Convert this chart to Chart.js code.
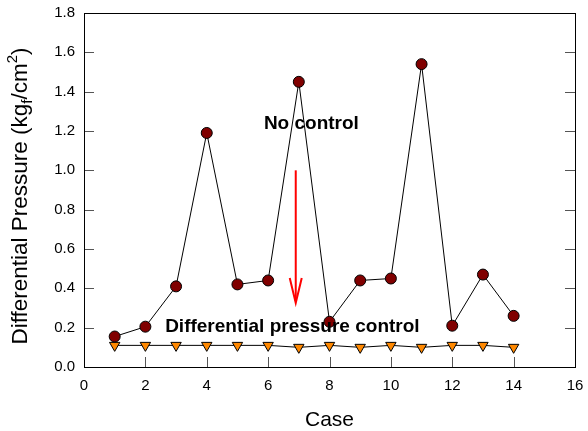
<!DOCTYPE html>
<html><head><meta charset="utf-8">
<script src="https://cdn.jsdelivr.net/npm/chart.js@4/dist/chart.umd.min.js"></script>
<style>html,body{margin:0;padding:0;background:#fff}#wrap{width:588px;height:431px}</style>
</head><body><div id="wrap"><canvas id="c" width="588" height="431"></canvas></div>
<script>
const cases = [1,2,3,4,5,6,7,8,9,10,11,12,13,14];
const noControl = [0.155,0.205,0.41,1.19,0.42,0.44,1.45,0.23,0.44,0.45,1.54,0.21,0.47,0.26];
const dpControl = [0.11,0.11,0.11,0.11,0.11,0.11,0.10,0.11,0.10,0.11,0.10,0.11,0.11,0.10];
const xTicks = [0,2,4,6,8,10,12,14,16];
const yTicks = [0,0.2,0.4,0.6,0.8,1.0,1.2,1.4,1.6,1.8];
const xTitle = 'Case';
const yTitleParts = [{t:'Differential Pressure (kg',k:'n'},{t:'f',k:'sub'},{t:'/cm',k:'n'},{t:'2',k:'sup'},{t:')',k:'n'}];
const labelNoControl = {text:'No control', x:7.41, y:1.235};
const labelControl = {text:'Differential pressure control', x:6.79, y:0.205};
const arrow = {x:6.9, y0:1.0, y1:0.325};

const FONT = '"Liberation Sans", Arial, sans-serif';

const framePlugin = {
  id:'frame',
  afterDatasetsDraw(chart){
    const {ctx, chartArea:a, scales:{x,y}} = chart;
    ctx.save();
    // inward ticks
    ctx.strokeStyle='#555'; ctx.lineWidth=1;
    ctx.beginPath();
    xTicks.forEach(v=>{const px=Math.round(x.getPixelForValue(v))+0.5;
      ctx.moveTo(px,a.bottom); ctx.lineTo(px,a.bottom-10);});
    yTicks.forEach(v=>{const py=Math.round(y.getPixelForValue(v))+0.5;
      ctx.moveTo(a.left,py); ctx.lineTo(a.left+10,py);
      ctx.moveTo(a.right,py); ctx.lineTo(a.right-10,py);});
    ctx.stroke();
    ctx.strokeStyle='#000';
    ctx.strokeRect(Math.round(a.left)+0.5, Math.round(a.top)+0.5, Math.round(a.right-a.left), Math.round(a.bottom-a.top));
    // arrow
    const ax=x.getPixelForValue(arrow.x), ay0=y.getPixelForValue(arrow.y0), ay1=y.getPixelForValue(arrow.y1);
    ctx.strokeStyle='#ff0000'; ctx.lineWidth=2;
    ctx.beginPath(); ctx.moveTo(ax,ay0); ctx.lineTo(ax,ay1-2); ctx.stroke();
    ctx.beginPath(); ctx.moveTo(ax-6,ay1-25); ctx.lineTo(ax,ay1); ctx.lineTo(ax+6,ay1-25); ctx.stroke();
    // labels
    ctx.fillStyle='#000'; ctx.font='bold 19px '+FONT; ctx.textAlign='center'; ctx.textBaseline='middle';
    [labelNoControl,labelControl].forEach(l=>ctx.fillText(l.text, x.getPixelForValue(l.x), y.getPixelForValue(l.y)));
    // y title with sub/superscript
    const fs=22.5, small=Math.round(fs*0.68);
    ctx.textAlign='left'; ctx.textBaseline='alphabetic';
    let total=0;
    yTitleParts.forEach(p=>{ctx.font=(p.k==='n'?fs:small)+'px '+FONT; p.w=ctx.measureText(p.t).width; total+=p.w;});
    ctx.translate(19+fs*0.358, 196);
    ctx.rotate(-Math.PI/2);
    let cx=-total/2;
    yTitleParts.forEach(p=>{
      ctx.font=(p.k==='n'?fs:small)+'px '+FONT;
      const dy = p.k==='sub'? fs*0.2 : p.k==='sup'? -fs*0.45 : 0;
      ctx.fillText(p.t, cx, dy); cx+=p.w;});
    ctx.restore();
  }
};

new Chart(document.getElementById('c'), {
  type:'line',
  data:{datasets:[
    {label:'No control', data:cases.map((c,i)=>({x:c,y:noControl[i]})), borderColor:'#000', borderWidth:1,
     pointStyle:'circle', pointRadius:5.5, pointBackgroundColor:'#800000', pointBorderColor:'#000', pointBorderWidth:1, tension:0},
    {label:'Differential pressure control', data:cases.map((c,i)=>({x:c,y:dpControl[i]})), borderColor:'#000', borderWidth:1,
     pointStyle:'triangle', pointRotation:180, pointRadius:6, pointBackgroundColor:'#ff8800', pointBorderColor:'#000', pointBorderWidth:1, tension:0}
  ]},
  options:{
    responsive:false, animation:false, devicePixelRatio:1,
    layout:{padding:{top:13,right:13,left:0,bottom:0}},
    plugins:{legend:{display:false}, tooltip:{enabled:false}},
    scales:{
      x:{type:'linear', min:0, max:16, afterBuildTicks:s=>{s.ticks=xTicks.map(v=>({value:v}));},
         grid:{display:false, drawTicks:false}, border:{display:false},
         ticks:{color:'#000', font:{family:FONT,size:15}, padding:10},
         title:{display:true,text:xTitle,color:'#000',font:{family:FONT,size:21},padding:{top:0,bottom:-2}},
         afterFit:s=>{s.height=64; s.paddingLeft=0; s.paddingRight=0;}},
      y:{type:'linear', min:0, max:1.8, afterBuildTicks:s=>{s.ticks=yTicks.map(v=>({value:v}));},
         grid:{display:false, drawTicks:false}, border:{display:false},
         ticks:{color:'#000', font:{family:FONT,size:15}, padding:9, callback:v=>Number(v).toFixed(1)},
         title:{display:false},
         afterFit:s=>{s.width=84; s.paddingTop=0; s.paddingBottom=0;}}
    }
  },
  plugins:[framePlugin]
});
</script></body></html>
